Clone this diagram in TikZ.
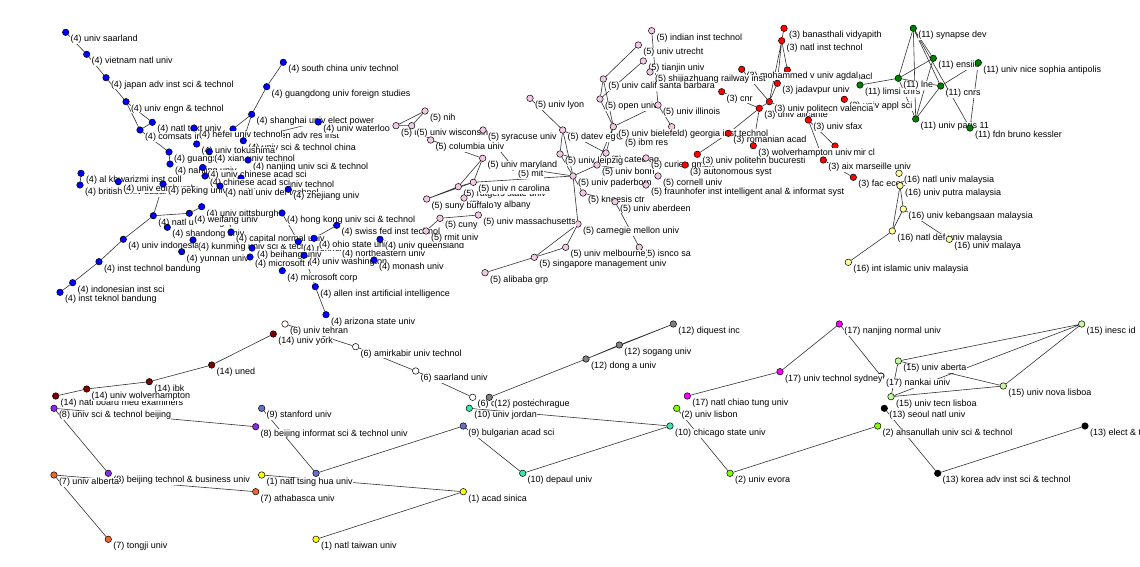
\documentclass[tikz,border=0pt]{standalone}
\usepackage{fontspec}
\setmainfont{Liberation Sans}
\usetikzlibrary{backgrounds}
\definecolor{col1}{HTML}{FFFF00}
\definecolor{col2}{HTML}{80FF00}
\definecolor{col3}{HTML}{FF0000}
\definecolor{col4}{HTML}{0000FF}
\definecolor{col5}{HTML}{F2C8E4}
\definecolor{col6}{HTML}{FFFFFF}
\definecolor{col7}{HTML}{F06428}
\definecolor{col8}{HTML}{8A2BE2}
\definecolor{col9}{HTML}{6670CC}
\definecolor{col10}{HTML}{3CE6AA}
\definecolor{col11}{HTML}{008000}
\definecolor{col12}{HTML}{808080}
\definecolor{col13}{HTML}{000000}
\definecolor{col14}{HTML}{800000}
\definecolor{col15}{HTML}{C8F5A0}
\definecolor{col16}{HTML}{FFFF99}
\definecolor{col17}{HTML}{FF00FF}
\newcommand\lblfont{\fontsize{9}{10}\selectfont}
\tikzset{
  dot/.style={circle,draw=black,line width=.5pt,fill=#1,minimum size=6.5pt,inner sep=0pt},
  lab/.style={anchor=base west,fill=white,inner sep=.3pt,font=\lblfont},
  vx/.style 2 args={dot=#1,
    append after command={node[lab] at ([xshift=4.5pt,yshift=-9.5pt]\tikzlastnode.center) {#2}}},
  link/.style={draw=black!80,line width=.6pt}
}
\begin{document}
\begin{tikzpicture}[x=1pt,y=-1pt]
\useasboundingbox (0,0) rectangle (1140,567);
\clip (0,0) rectangle (1140,567);
% cluster 4
\node[vx={col4}{(4) univ saarland}] (saar4) at (65.7,32.3) {};
\node[vx={col4}{(4) vietnam natl univ}] (viet4) at (86.7,54.3) {};
\node[vx={col4}{(4) japan adv inst sci \& technol}] (jaist4) at (106,77.7) {};
\node[vx={col4}{(4) univ engn \& technol}] (engn4) at (126,101.7) {};
\node[vx={col4}{(4) natl text univ}] (text4) at (152.3,122.3) {};
\node[vx={col4}{(4) comsats inst informat technol}] (coms4) at (140,130) {};
\node[vx={col4}{(4) shenzhen adv res inst}] (shsz4) at (233,129) {};
\node[vx={col4}{(4) hefei univ technol}] (hefei4) at (194,128) {};
\node[vx={col4}{(4) south china univ technol}] (scnu4) at (283.3,62.3) {};
\node[vx={col4}{(4) guangdong univ foreign studies}] (gdufs4) at (266.7,86.7) {};
\node[vx={col4}{(4) shanghai univ elect power}] (shep4) at (251.7,114.3) {};
\node[vx={col4}{(4) univ waterloo}] (wat4) at (318.3,122) {};
\node[vx={col4}{(4) univ sci \& technol china}] (ustc4) at (243.3,140.7) {};
\node[vx={col4}{(4) univ tokushima}] (toku4) at (196.7,144) {};
\node[vx={col4}{(4) guangxi univ}] (guang4) at (169,152) {};
\node[vx={col4}{(4) xian univ technol}] (xian4) at (209.3,151.7) {};
\node[vx={col4}{(4) nanjing univ}] (na4) at (170,164) {};
\node[vx={col4}{(4) nanjing univ sci \& technol}] (njust4) at (248,160) {};
\node[vx={col4}{(4) univ chinese acad sci}] (ucas4) at (202.7,167.5) {};
\node[vx={col4}{(4) dalian univ technol}] (dlut4) at (241,178) {};
\node[vx={col4}{(4) chinese acad sci}] (cas4) at (205,176) {};
\node[vx={col4}{(4) al khwarizmi inst coll}] (khw4) at (81,173.3) {};
\node[vx={col4}{(4) british univ dubai}] (bud4) at (80,185) {};
\node[vx={col4}{(4) univ edinburgh}] (edin4) at (118.3,181.7) {};
\node[vx={col4}{(4) peking univ}] (peking4) at (163,184) {};
\node[vx={col4}{(4) natl univ def technol}] (nudt4) at (220,186) {};
\node[vx={col4}{(4) zhejiang univ}] (zju4) at (288.3,189.3) {};
\node[vx={col4}{(4) natl univ singapore}] (natl4) at (153.3,215.7) {};
\node[vx={col4}{(4) univ pittsburgh}] (pitt4) at (201.7,206.7) {};
\node[vx={col4}{(4) weifang univ}] (wf4) at (189.3,213.3) {};
\node[vx={col4}{(4) shandong univ}] (sdu4) at (167.3,227.3) {};
\node[vx={col4}{(4) univ indonesia}] (ui4) at (123.3,239.3) {};
\node[vx={col4}{(4) kunming univ sci \& technol}] (kust4) at (193,240) {};
\node[vx={col4}{(4) yunnan univ}] (ynu4) at (181.7,251.7) {};
\node[vx={col4}{(4) inst technol bandung}] (itb4) at (99,261.7) {};
\node[vx={col4}{(4) indonesian inst sci}] (lipi4) at (72.7,282.7) {};
\node[vx={col4}{(4) inst teknol bandung}] (itbb4) at (60,292.3) {};
\node[vx={col4}{(4) capital normal univ}] (cnu4) at (231,232) {};
\node[vx={col4}{(4) hong kong univ sci \& technol}] (hkust4) at (282,213) {};
\node[vx={col4}{(4) swiss fed inst technol}] (eth4) at (336.7,225.3) {};
\node[vx={col4}{(4) renmin univ china}] (ruc4) at (298.3,241.7) {};
\node[vx={col4}{(4) northeastern univ}] (neu4) at (337,247) {};
\node[vx={col4}{(4) ohio state univ}] (ohio4) at (314,238.3) {};
\node[vx={col4}{(4) univ queensland}] (uq4) at (380,239.3) {};
\node[vx={col4}{(4) beihang univ}] (buaa4) at (252,248) {};
\node[vx={col4}{(4) microsoft res asia}] (msra4) at (250,257) {};
\node[vx={col4}{(4) univ washington}] (uw4) at (304,255.3) {};
\node[vx={col4}{(4) monash univ}] (mon4) at (374,260) {};
\node[vx={col4}{(4) microsoft corp}] (ms4) at (282.3,270.7) {};
\node[vx={col4}{(4) allen inst artificial intelligence}] (allen4) at (315.3,286.7) {};
\node[vx={col4}{(4) arizona state univ}] (asu4) at (326,314.7) {};
% two red ones sit under the pink labels
\node[vx={col3}{(3) inst politecn nacl}] (ipn3) at (787.3,70) {};
\node[vx={col3}{(3) mohammed v univ agdal}] (agd3) at (741.7,69.3) {};
% cluster 5
\node[vx={col5}{(5) indian inst technol}] (iit5) at (651.7,30.7) {};
\node[vx={col5}{(5) univ utrecht}] (utr5) at (638.3,45) {};
\node[vx={col5}{(5) tianjin univ}] (tju5) at (643.3,61) {};
\node[vx={col5}{(5) shijiazhuang railway inst}] (sjz5) at (650,72) {};
\node[vx={col5}{(5) univ calif santa barbara}] (ucsb5) at (603.3,79) {};
\node[vx={col5}{(5) open univ}] (open5) at (600,99) {};
\node[vx={col5}{(5) univ illinois}] (uiuc5) at (658,105) {};
\node[vx={col5}{(5) georgia inst technol}] (geo5) at (671.7,126.7) {};
\node[vx={col5}{(5) univ lyon}] (lyon5) at (530,98.3) {};
\node[vx={col5}{(5) nih}] (nih5) at (425,111) {};
\node[vx={col5}{(5) univ michigan}] (mich5) at (396,125.7) {};
\node[vx={col5}{(5) univ wisconsin}] (wis5) at (411.7,125.7) {};
\node[vx={col5}{(5) columbia univ}] (col5) at (430.7,140) {};
\node[vx={col5}{(5) syracuse univ}] (syr5) at (483,130) {};
\node[vx={col5}{(5) datev eg}] (datev5) at (562.7,130) {};
\node[vx={col5}{(5) ibm res}] (ibm5) at (620,136) {};
\node[vx={col5}{(5) univ bielefeld}] (biel5) at (613.3,126.7) {};
\node[vx={col5}{(5) mit}] (mit5) at (513,167) {};
\node[vx={col5}{(5) univ maryland}] (umd5) at (482.7,158.3) {};
\node[vx={col5}{(5) cateo ag}] (cateo5) at (606,153) {};
\node[vx={col5}{(5) univ leipzig}] (leip5) at (560,154) {};
\node[vx={col5}{(5) univ bonn}] (bonn5) at (597,165) {};
\node[vx={col5}{(5) curien gmbh}] (cur5) at (646,158) {};
\node[vx={col5}{(5) univ paderborn}] (pad5) at (573,176) {};
\node[vx={col5}{(5) cornell univ}] (corn5) at (658,176) {};
\node[vx={col5}{(5) fraunhofer inst intelligent anal \& informat syst}] (fraun5) at (646,185) {};
\node[vx={col5}{(5) knoesis ctr}] (kno5) at (583,193) {};
\node[vx={col5}{(5) univ aberdeen}] (abd5) at (615,201.7) {};
\node[vx={col5}{(5) carnegie mellon univ}] (cmu5) at (578,224) {};
\node[vx={col5}{(5) isnco sa}] (isn5) at (639.3,247.3) {};
\node[vx={col5}{(5) univ melbourne}] (melb5) at (565.7,247.3) {};
\node[vx={col5}{(5) singapore management univ}] (smu5) at (534.3,257.3) {};
\node[vx={col5}{(5) alibaba grp}] (ali5) at (485,272.7) {};
\node[vx={col5}{(5) rutgers state univ}] (rut5) at (458.3,186.7) {};
\node[vx={col5}{(5) univ n carolina}] (unc5) at (473.3,182.3) {};
\node[vx={col5}{(5) suny albany}] (alb5) at (464,198) {};
\node[vx={col5}{(5) suny buffalo}] (buf5) at (426.7,199) {};
\node[vx={col5}{(5) rmit univ}] (rmit5) at (426,231) {};
\node[vx={col5}{(5) cuny}] (cuny5) at (440,218.3) {};
\node[vx={col5}{(5) univ massachusetts}] (umass5) at (478.3,215) {};
% cluster 3
\node[vx={col3}{(3) banasthali vidyapith}] (ban3) at (784,28.3) {};
\node[vx={col3}{(3) natl inst technol}] (nit3) at (781.7,40.7) {};
\node[vx={col3}{(3) jadavpur univ}] (jad3) at (777.3,83.3) {};
\node[vx={col3}{(3) cnr}] (cnr3) at (721.7,91.7) {};
\node[vx={col3}{(3) univ appl sci}] (appl3) at (844.3,99.3) {};
\node[vx={col3}{(3) univ alicante}] (ali3) at (759.3,108.3) {};
\node[vx={col3}{(3) univ politecn valencia}] (val3) at (769.3,101.7) {};
\node[vx={col3}{(3) univ sfax}] (sfax3) at (808.3,120) {};
\node[vx={col3}{(3) romanian acad}] (rom3) at (728.3,133.3) {};
\node[vx={col3}{(3) mir cl}] (mir3) at (835,146) {};
\node[vx={col3}{(3) wolverhampton univ}] (wolv3) at (753.3,145.7) {};
\node[vx={col3}{(3) aix marseille univ}] (aix3) at (823.3,160) {};
\node[vx={col3}{(3) fac econ}] (fac3) at (853.3,177.3) {};
\node[vx={col3}{(3) univ politehn bucuresti}] (buc3) at (697.3,154.3) {};
\node[vx={col3}{(3) autonomous syst}] (auto3) at (685,165) {};
% cluster 11
\node[vx={col11}{(11) synapse dev}] (syn11) at (913.3,28.3) {};
\node[vx={col11}{(11) ensiie}] (ensi11) at (933.3,58.3) {};
\node[vx={col11}{(11) univ nice sophia antipolis}] (nice11) at (978.3,62.7) {};
\node[vx={col11}{(11) limsi cnrs}] (limsi11) at (860,85) {};
\node[vx={col11}{(11) lne}] (lne11) at (898.3,78.3) {};
\node[vx={col11}{(11) cnrs}] (cnrs11) at (940.7,86) {};
\node[vx={col11}{(11) univ paris 11}] (ps11) at (915.7,119) {};
\node[vx={col11}{(11) fdn bruno kessler}] (fbk11) at (970,128) {};
% cluster 16
\node[vx={col16}{(16) natl univ malaysia}] (num16) at (899,173.3) {};
\node[vx={col16}{(16) univ putra malaysia}] (upm16) at (900,185.7) {};
\node[vx={col16}{(16) univ kebangsaan malaysia}] (ukm16) at (903.3,209) {};
\node[vx={col16}{(16) natl def univ malaysia}] (upnm16) at (892.3,231) {};
\node[vx={col16}{(16) univ malaya}] (um16) at (949.3,239.3) {};
\node[vx={col16}{(16) int islamic univ malaysia}] (iium16) at (848.3,262.3) {};
% lower clusters
\node[vx={col14}{(14) natl board med examiners}] (nbme14) at (55.7,396) {};
\node[vx={col14}{(14) ibk}] (ibk14) at (149.3,381.7) {};
\node[vx={col14}{(14) univ wolverhampton}] (wolv14) at (86.7,389) {};
\node[vx={col14}{(14) uned}] (uned14) at (211.7,365) {};
\node[vx={col6}{(6) univ tehran}] (teh6) at (285,324) {};
\node[vx={col14}{(14) univ york}] (york14) at (273.3,334) {};
\node[vx={col6}{(6) amirkabir univ technol}] (amir6) at (355.7,346.7) {};
\node[vx={col6}{(6) saarland univ}] (saar6) at (415.7,371) {};
\node[vx={col6}{(6) charles univ prague}] (cha6) at (472.7,397.3) {};
\node[vx={col12}{(12) postech}] (post12) at (489.3,397.3) {};
\node[vx={col12}{(12) dong a univ}] (dong12) at (586,359) {};
\node[vx={col12}{(12) sogang univ}] (sog12) at (619.3,345) {};
\node[vx={col12}{(12) diquest inc}] (diq12) at (673.3,324) {};
\node[vx={col10}{(10) univ jordan}] (jor10) at (469.3,408.3) {};
\node[vx={col10}{(10) depaul univ}] (dep10) at (522.7,473.3) {};
\node[vx={col10}{(10) chicago state univ}] (chi10) at (670,426) {};
\node[vx={col9}{(9) stanford univ}] (stan9) at (261.7,408.3) {};
\node[dot=col9] (ths9) at (316,473.3) {};
\node[vx={col9}{(9) bulgarian acad sci}] (bul9) at (463.3,426) {};
\node[vx={col8}{(8) univ sci \& technol beijing}] (ustb8) at (54,408.3) {};
\node[vx={col8}{(8) beijing informat sci \& technol univ}] (bist8) at (255.7,426.7) {};
\node[vx={col8}{(8) beijing technol \& business univ}] (btbu8) at (108.3,473.3) {};
\node[vx={col7}{(7) univ alberta}] (alb7) at (54,475) {};
\node[vx={col7}{(7) athabasca univ}] (ath7) at (255.7,491.7) {};
\node[vx={col7}{(7) tongji univ}] (tj7) at (108.3,539.3) {};
\node[vx={col1}{(1) natl tsing hua univ}] (nthu1) at (261.7,475) {};
\node[vx={col1}{(1) acad sinica}] (as1) at (463.3,491.7) {};
\node[vx={col1}{(1) natl taiwan univ}] (ntu1) at (316,539.3) {};
\node[vx={col2}{(2) univ lisbon}] (lis2) at (676.7,408.3) {};
\node[vx={col2}{(2) univ evora}] (evo2) at (730,473.3) {};
\node[vx={col2}{(2) ahsanullah univ sci \& technol}] (ahs2) at (877.7,426) {};
\node[vx={col17}{(17) nanjing normal univ}] (njnu17) at (839.3,324) {};
\node[vx={col17}{(17) natl chiao tung univ}] (nctu17) at (687.3,396) {};
\node[vx={col17}{(17) nankai univ}] (nk17) at (881,376) {};
\node[vx={col17}{(17) univ technol sydney}] (uts17) at (780,371.7) {};
\node[vx={col15}{(15) inesc id}] (ines15) at (1081.7,324) {};
\node[vx={col15}{(15) univ aberta}] (ab15) at (898.3,361) {};
\node[vx={col15}{(15) univ nova lisboa}] (nova15) at (1003.3,386) {};
\node[vx={col15}{(15) univ tecn lisboa}] (tecn15) at (891,396.7) {};
\node[vx={col13}{(13) seoul natl univ}] (snu13) at (884.3,408.3) {};
\node[vx={col13}{(13) korea adv inst sci \& technol}] (kai13) at (937.7,473.3) {};
\node[vx={col13}{(13) elect \& telecommun res inst}] (etri13) at (1085,426) {};
% links
\begin{scope}[on background layer]
\fill[white] (0,0) rectangle (1140,567);
\draw[link] (saar4) -- (viet4) -- (jaist4) -- (engn4) -- (text4) -- (coms4) -- (engn4);
\draw[link] (coms4) -- (guang4) -- (na4);
\draw[link] (scnu4) -- (gdufs4) -- (shep4) -- (shsz4);
\draw[link] (shep4) -- (ustc4) -- (wat4);
\draw[link] (khw4) -- (bud4);
\draw[link] (itbb4) -- (lipi4) -- (itb4) -- (ui4) -- (natl4) -- (peking4);
\draw[link] (natl4) -- (wf4) -- (pitt4);
\draw[link] (ucas4) -- (cas4);
\draw[link] (hkust4) -- (ruc4) -- (uw4) -- (allen4) -- (asu4);
\draw[link] (ms4) -- (uw4);
\draw[link] (eth4) -- (ohio4);
\draw[link] (iit5) -- (uiuc5) -- (geo5);
\draw[link] (utr5) -- (ucsb5) -- (open5) -- (biel5) -- (ucsb5);
\draw[link] (tju5) -- (open5);
\draw[link] (biel5) -- (uiuc5);
\draw[link] (lyon5) -- (datev5) -- (leip5) -- (pad5) -- (datev5) -- (cateo5) -- (biel5) -- (bonn5);
\draw[link] (leip5) -- (bonn5) -- (pad5);
\draw[link] (bonn5) -- (corn5);
\draw[link] (pad5) -- (kno5) -- (abd5) -- (isn5);
\draw[link] (pad5) -- (cmu5) -- (smu5) -- (melb5) -- (cmu5);
\draw[link] (smu5) -- (ali5);
\draw[link] (nih5) -- (mich5) -- (wis5) -- (nih5);
\draw[link] (wis5) -- (col5) -- (umd5) -- (unc5) -- (rut5) -- (umd5);
\draw[link] (rut5) -- (buf5) -- (unc5) -- (pad5);
\draw[link] (syr5) -- (mit5) -- (pad5);
\draw[link] (rmit5) -- (cuny5) -- (umass5);
\draw[link] (ban3) -- (nit3) -- (jad3) -- (val3) -- (nit3);
\draw[link] (nit3) -- (ipn3);
\draw[link] (agd3) -- (val3) -- (ali3) -- (cnr3);
\draw[link] (ali3) -- (rom3) -- (buc3);
\draw[link] (ali3) -- (wolv3);
\draw[link] (val3) -- (sfax3) -- (aix3) -- (fac3);
\draw[link] (sfax3) -- (mir3);
\draw[link] (syn11) -- (lne11) -- (ps11) -- (syn11) -- (ensi11) -- (lne11);
\draw[link] (ensi11) -- (ps11) -- (cnrs11) -- (syn11);
\draw[link] (limsi11) -- (lne11) -- (cnrs11) -- (nice11) -- (fbk11) -- (syn11);
\draw[link] (upm16) -- (upnm16) -- (ukm16) -- (upm16);
\draw[link] (upnm16) -- (iium16);
\draw[link] (ukm16) -- (um16);
\draw[link] (york14) -- (uned14) -- (ibk14) -- (wolv14) -- (nbme14);
\draw[link] (teh6) -- (amir6) -- (saar6) -- (cha6);
\draw[link] (post12) -- (dong12) -- (sog12) -- (diq12) -- (dong12);
\draw[link] (jor10) -- (chi10) -- (dep10) -- (bul9) -- (ths9) -- (stan9);
\draw[link] (ustb8) -- (bist8);
\draw[link] (ustb8) -- (btbu8);
\draw[link] (ath7) -- (alb7) -- (tj7);
\draw[link] (nthu1) -- (as1) -- (ntu1);
\draw[link] (lis2) -- (evo2) -- (ahs2);
\draw[link] (nctu17) -- (uts17) -- (njnu17) -- (nk17);
\draw[link] (ines15) -- (ab15) -- (nova15) -- (ines15) -- (tecn15) -- (nova15);
\draw[link] (ab15) -- (tecn15);
\draw[link] (snu13) -- (kai13) -- (etri13);
\end{scope}
\end{tikzpicture}
\end{document}
